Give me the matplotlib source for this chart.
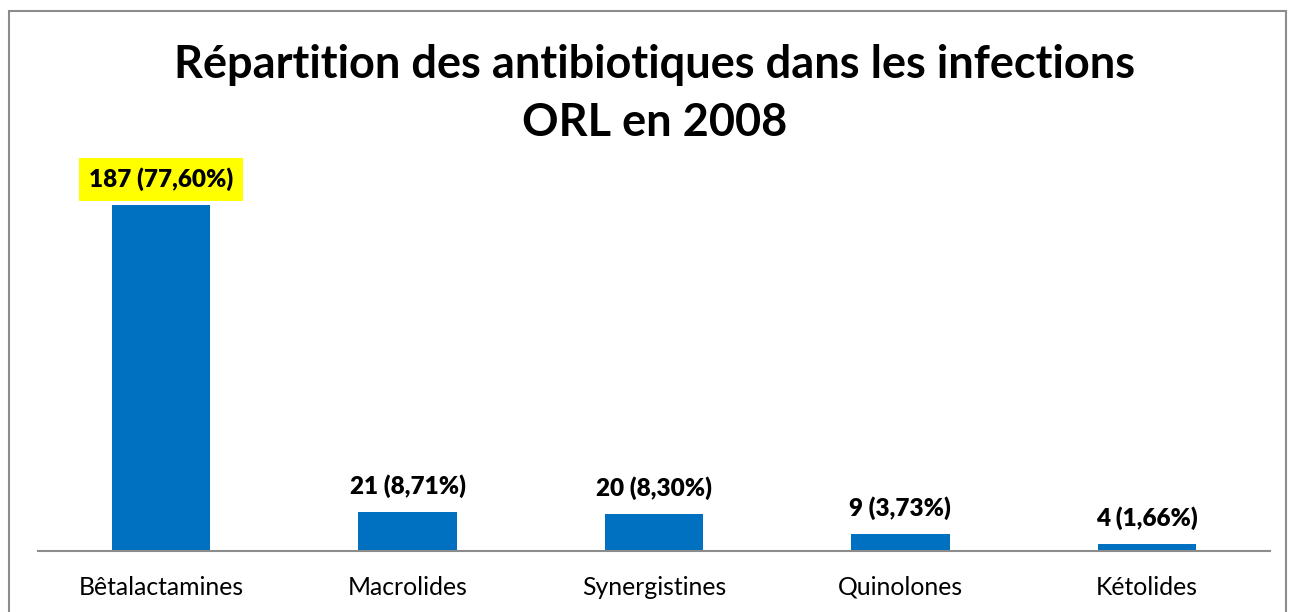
import matplotlib.pyplot as plt
from matplotlib.patches import Rectangle

categories = ['Bêtalactamines', 'Macrolides', 'Synergistines', 'Quinolones', 'Kétolides']
counts = [187, 21, 20, 9, 4]
percents = ['77,60%', '8,71%', '8,30%', '3,73%', '1,66%']

plt.rcParams['font.family'] = ['Lato', 'DejaVu Sans']

W, H = 1291, 612
fig = plt.figure(figsize=(W / 100, H / 100), dpi=100)

# cadre gris autour du graphique
fig.patches.append(Rectangle((9 / W, -0.05), (1286 - 9) / W, 1.05 - 11 / H,
                             transform=fig.transFigure, fill=False,
                             edgecolor='#8c8c8c', linewidth=1.5))

ax = fig.add_axes([38 / W, (H - 551) / H, (1270 - 38) / W, (551 - 150) / H])
x = range(len(categories))
ax.bar(x, counts, width=0.4, color='#0070C0')
ax.set_xlim(-0.5, len(categories) - 0.5)
ax.set_ylim(0, 187 * 401 / 346)

for s in ['top', 'right', 'left']:
    ax.spines[s].set_visible(False)
ax.spines['bottom'].set_color('#8c8c8c')
ax.spines['bottom'].set_linewidth(1.5)
ax.set_yticks([])
ax.set_xticks(list(x))
ax.set_xticklabels(categories, fontsize=17.8)
ax.tick_params(axis='x', length=0, pad=18)

for i, (c, p) in enumerate(zip(counts, percents)):
    box = dict(facecolor='yellow', edgecolor='none', pad=7) if i == 0 else None
    ax.annotate('%d (%s)' % (c, p), (i, c), xytext=(0, 10), textcoords='offset points',
                ha='center', va='bottom', fontsize=17.5, fontweight='heavy', bbox=box)

fig.text(0.507, 1 - 94 / H, 'Répartition des antibiotiques dans les infections\nORL en 2008',
         ha='center', va='center', fontsize=32.5, fontweight='bold', linespacing=1.45)

fig.savefig('out.png', dpi=100)
